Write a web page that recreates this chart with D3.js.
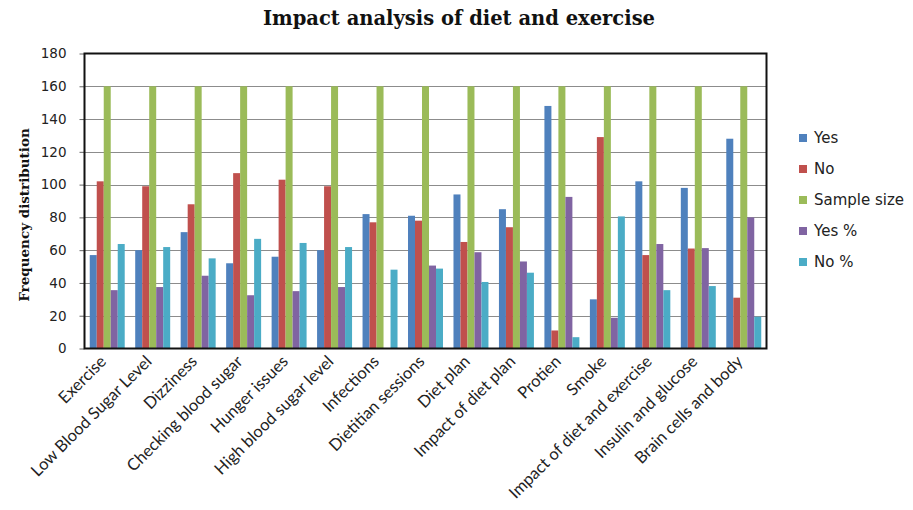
<!DOCTYPE html>
<html>
<head>
<meta charset="utf-8">
<script src="https://cdn.jsdelivr.net/npm/d3@7"></script>
<style>
  html, body { margin: 0; padding: 0; background: #fff; }
  svg { display: block; }
</style>
</head>
<body>
<svg id="chart" width="913" height="510"></svg>
<script>
// Survey items on the x axis
const categories = [
  "Exercise", "Low Blood Sugar Level", "Dizziness", "Checking blood sugar",
  "Hunger issues", "High blood sugar level", "Infections", "Dietitian sessions",
  "Diet plan", "Impact of diet plan", "Protien", "Smoke",
  "Impact of diet and exercise", "Insulin and glucose", "Brain cells and body"
];

// Series values, one per category
const yesValues        = [57, 60, 71, 52, 56, 60, 82, 81, 94, 85, 148, 30, 102, 98, 128];
const noValues         = [102, 99, 88, 107, 103, 99, 77, 78, 65, 74, 11, 129, 57, 61, 31];
const sampleSizeValues = [160, 160, 160, 160, 160, 160, 160, 160, 160, 160, 160, 160, 160, 160, 160];
const yesPctValues     = [35.6, 37.5, 44.4, 32.5, 35, 37.5, null, 50.6, 58.75, 53.1, 92.5, 18.75, 63.75, 61.25, 80];
const noPctValues      = [63.75, 61.9, 55, 66.9, 64.4, 61.9, 48.1, 48.75, 40.6, 46.25, 6.9, 80.6, 35.6, 38.1, 19.4];

const seriesNames  = ["Yes", "No", "Sample size", "Yes %", "No %"];
const seriesColors = ["#4F81BD", "#C0504D", "#9BBB59", "#8064A2", "#4BACC6"];
const yTicks = [0, 20, 40, 60, 80, 100, 120, 140, 160, 180];

const seriesValues = [yesValues, noValues, sampleSizeValues, yesPctValues, noPctValues];

const svg = d3.select("#chart");
const plot = { left: 84.5, right: 766.5, top: 53.5, bottom: 348.5 };

const x0 = d3.scaleBand()
  .domain(categories)
  .range([plot.left, plot.right])
  .paddingInner(1.5 / 6.5)
  .paddingOuter(0.75 / 6.5);

const x1 = d3.scaleBand()
  .domain(seriesNames)
  .range([0, x0.bandwidth()]);

const y = d3.scaleLinear()
  .domain([0, 180])
  .range([plot.bottom, plot.top]);

// Title
svg.append("text")
  .attr("x", 459)
  .attr("y", 25)
  .attr("text-anchor", "middle")
  .attr("font-family", "'DejaVu Serif', serif")
  .attr("font-weight", "bold")
  .attr("font-size", 19.5)
  .attr("fill", "#111")
  .text("Impact analysis of diet and exercise");

// Gridlines
svg.append("g")
  .selectAll("line")
  .data(yTicks.filter(t => t > 0 && t < 180))
  .join("line")
  .attr("x1", plot.left)
  .attr("x2", plot.right)
  .attr("y1", d => Math.round(y(d)) + 0.5)
  .attr("y2", d => Math.round(y(d)) + 0.5)
  .attr("stroke", "#8c8c8c")
  .attr("stroke-width", 1);

// Bars
const groups = svg.append("g")
  .selectAll("g")
  .data(categories)
  .join("g")
  .attr("transform", d => `translate(${x0(d)},0)`);

groups.selectAll("rect")
  .data((d, i) => seriesNames.map((s, k) => ({ series: s, k, value: seriesValues[k][i] })))
  .join("rect")
  .filter(d => d.value != null)
  .attr("x", d => x1(d.series))
  .attr("width", x1.bandwidth())
  .attr("y", d => y(d.value))
  .attr("height", d => y(0) - y(d.value))
  .attr("fill", d => seriesColors[d.k]);

// Y axis with outward ticks
const yAxis = d3.axisLeft(y)
  .tickValues(yTicks)
  .tickSize(5)
  .tickPadding(13);

svg.append("g")
  .attr("transform", `translate(${plot.left},0)`)
  .call(yAxis)
  .call(g => g.select(".domain").remove())
  .call(g => g.selectAll(".tick line").attr("stroke", "#666"))
  .call(g => g.selectAll(".tick text")
    .attr("font-family", "'DejaVu Sans', Verdana, sans-serif")
    .attr("font-size", 13.5)
    .attr("fill", "#222"));

// Plot frame
svg.append("rect")
  .attr("x", plot.left)
  .attr("y", plot.top)
  .attr("width", plot.right - plot.left)
  .attr("height", plot.bottom - plot.top)
  .attr("fill", "none")
  .attr("stroke", "#111")
  .attr("stroke-width", 2);

// Category labels, rotated
const xAxis = d3.axisBottom(x0).tickSize(0).tickPadding(0);
svg.append("g")
  .attr("transform", `translate(0,${plot.bottom})`)
  .call(xAxis)
  .call(g => g.select(".domain").remove())
  .call(g => g.selectAll(".tick text")
    .attr("font-family", "Lato, 'Open Sans', sans-serif")
    .attr("font-size", 16.5)
    .attr("fill", "#222")
    .attr("text-anchor", "end")
    .attr("dy", 0)
    .attr("y", 0)
    .attr("transform", "translate(0,14) rotate(-45)"));

// Y axis title
svg.append("text")
  .attr("transform", "translate(29,215) rotate(-90)")
  .attr("text-anchor", "middle")
  .attr("font-family", "'DejaVu Serif', serif")
  .attr("font-weight", "bold")
  .attr("font-size", 13.5)
  .attr("fill", "#111")
  .text("Frequency distribution");

// Legend
const legend = svg.append("g")
  .selectAll("g")
  .data(seriesNames)
  .join("g")
  .attr("transform", (d, i) => `translate(799,${138 + i * 31})`);

legend.append("rect")
  .attr("x", 0)
  .attr("y", -4)
  .attr("width", 8)
  .attr("height", 8)
  .attr("fill", (d, i) => seriesColors[i]);

legend.append("text")
  .attr("x", 15)
  .attr("y", 0)
  .attr("dy", "0.36em")
  .attr("font-family", "'DejaVu Sans', Verdana, sans-serif")
  .attr("font-size", 15)
  .attr("fill", "#222")
  .text(d => d);
</script>
</body>
</html>
